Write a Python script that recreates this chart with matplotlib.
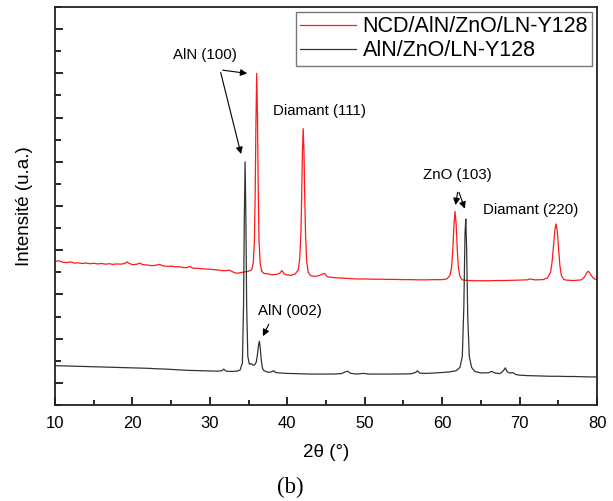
import matplotlib
matplotlib.use("Agg")
import matplotlib.pyplot as plt
from matplotlib.ticker import MultipleLocator, NullFormatter

plt.rcParams['font.family'] = ['Liberation Sans', 'DejaVu Sans']

# NCD/AlN/ZnO/LN-Y128 (red)
red_x = [10.0, 10.5, 11.0, 11.5, 12.0, 12.5, 13.0, 13.5, 14.0, 14.5, 15.0, 15.5, 16.0, 16.5,
         17.0, 17.5, 18.0, 18.5, 19.0, 19.3, 19.6, 20.0, 20.5, 21.0, 21.3, 22.0, 22.5, 23.0,
         23.5, 24.0, 24.5, 25.0, 25.5, 26.0, 26.5, 27.0, 27.4, 27.8, 28.5, 29.0, 29.5, 30.0,
         30.5, 31.0, 31.5, 32.0, 32.5, 32.8, 33.2, 33.6, 34.0, 34.5, 35.0, 35.4, 35.6, 35.75,
         35.85, 35.95, 36.05, 36.15, 36.25, 36.35, 36.5, 36.7, 37.0, 37.5, 38.0, 38.5, 39.0,
         39.3, 39.6, 40.0, 40.5, 41.0, 41.4, 41.6, 41.75, 41.85, 41.95, 42.05, 42.15, 42.25,
         42.35, 42.5, 42.7, 43.0, 43.5, 44.0, 44.5, 44.8, 45.2, 46.0, 47.0, 48.0, 49.0, 50.0,
         51.0, 52.0, 53.0, 54.0, 55.0, 56.0, 57.0, 58.0, 59.0, 60.0, 60.6, 61.0, 61.2, 61.35,
         61.5, 61.65, 61.8, 61.95, 62.1, 62.3, 62.6, 63.0, 64.0, 65.0, 66.0, 67.0, 68.0, 69.0,
         70.0, 71.0, 71.3, 72.0, 73.0, 73.6, 74.0, 74.2, 74.4, 74.55, 74.7, 74.85, 75.0, 75.2,
         75.4, 75.7, 76.0, 77.0, 78.0, 78.4, 78.7, 78.9, 79.1, 79.4, 79.7, 80.0]
red_y = [5.50, 5.52, 5.46, 5.44, 5.47, 5.42, 5.43, 5.40, 5.42, 5.39, 5.41, 5.38, 5.40, 5.37,
         5.39, 5.36, 5.38, 5.37, 5.40, 5.47, 5.40, 5.35, 5.36, 5.42, 5.35, 5.33, 5.30, 5.32,
         5.36, 5.29, 5.27, 5.28, 5.25, 5.26, 5.22, 5.21, 5.27, 5.19, 5.18, 5.16, 5.15, 5.14,
         5.12, 5.11, 5.08, 5.07, 5.10, 5.05, 4.98, 4.96, 4.99, 5.02, 5.05, 5.12, 5.40, 6.40,
         8.50, 11.80, 14.00, 12.00, 8.60, 6.40, 5.40, 5.05, 4.95, 4.93, 4.89, 4.90, 4.95,
         5.08, 4.93, 4.88, 4.87, 4.92, 5.10, 5.60, 6.70, 8.30, 10.40, 11.50, 10.50, 8.40,
         6.80, 5.50, 5.00, 4.85, 4.82, 4.84, 4.92, 4.95, 4.80, 4.76, 4.74, 4.72, 4.70, 4.70,
         4.69, 4.69, 4.68, 4.68, 4.67, 4.67, 4.66, 4.66, 4.67, 4.67, 4.70, 4.85, 5.20, 5.90,
         7.00, 7.76, 7.20, 6.00, 5.20, 4.80, 4.66, 4.64, 4.62, 4.62, 4.62, 4.63, 4.63, 4.64,
         4.65, 4.66, 4.70, 4.66, 4.67, 4.75, 5.00, 5.50, 6.30, 6.90, 7.19, 6.90, 6.20, 5.30,
         4.85, 4.68, 4.65, 4.63, 4.66, 4.80, 5.00, 5.05, 4.95, 4.78, 4.70, 4.67]

# AlN/ZnO/LN-Y128 (black)
blk_x = [10, 11, 12, 13, 14, 15, 16, 17, 18, 19, 20, 21, 22, 23, 24, 25, 26, 27, 28, 29, 30,
         31, 31.5, 31.8, 32.1, 32.5, 33, 33.5, 33.9, 34.2, 34.35, 34.45, 34.55, 34.65, 34.75,
         34.9, 35.1, 35.3, 35.6, 35.8, 36.0, 36.15, 36.3, 36.4, 36.5, 36.65, 36.8, 37.0, 37.5,
         38.0, 38.2, 38.5, 39, 40, 41, 42, 43, 44, 45, 46, 47, 47.5, 47.8, 48.2, 49, 49.8,
         50.5, 52, 54, 56, 56.6, 56.8, 57.1, 58, 59, 60, 61, 61.8, 62.3, 62.6, 62.8, 62.95,
         63.05, 63.15, 63.3, 63.5, 63.8, 64.2, 65, 66, 66.4, 66.8, 67.5, 67.9, 68.15, 68.4,
         68.8, 69.1, 69.5, 70, 71, 72, 73, 74, 75, 76, 77, 78, 79, 80]
blk_y = [0.78, 0.77, 0.76, 0.75, 0.74, 0.73, 0.72, 0.71, 0.70, 0.69, 0.68, 0.67, 0.66, 0.64,
         0.63, 0.61, 0.59, 0.57, 0.56, 0.55, 0.54, 0.53, 0.55, 0.62, 0.53, 0.52, 0.52, 0.53,
         0.58, 0.90, 3.50, 7.50, 10.00, 7.50, 3.50, 1.20, 0.85, 0.87, 0.80, 0.82, 0.95, 1.30,
         1.75, 1.88, 1.60, 1.00, 0.65, 0.55, 0.48, 0.50, 0.55, 0.47, 0.45, 0.43, 0.42, 0.41,
         0.40, 0.40, 0.40, 0.40, 0.42, 0.50, 0.53, 0.43, 0.40, 0.43, 0.40, 0.40, 0.40, 0.41,
         0.48, 0.55, 0.44, 0.43, 0.45, 0.47, 0.50, 0.55, 0.70, 1.20, 3.50, 6.80, 7.41, 6.20,
         3.00, 1.20, 0.70, 0.52, 0.45, 0.46, 0.52, 0.45, 0.42, 0.55, 0.68, 0.50, 0.44, 0.47,
         0.38, 0.35, 0.33, 0.32, 0.31, 0.30, 0.30, 0.29, 0.29, 0.28, 0.27, 0.27]

labels = ["NCD/AlN/ZnO/LN-Y128", "AlN/ZnO/LN-Y128"]
x_ticks = [10, 20, 30, 40, 50, 60, 70, 80]

fig = plt.figure(figsize=(6.13, 5.01), dpi=100)
ax = fig.add_axes([0.0897, 0.1916, 0.8843, 0.7944])

ax.plot(red_x, red_y, color='#ff1a1a', lw=0.9, label=labels[0])
ax.plot(blk_x, blk_y, color='#333333', lw=0.9, label=labels[1])

ax.set_xlim(10, 80)
ax.set_ylim(-1, 17)
ax.set_xticks(x_ticks)
ax.xaxis.set_minor_locator(MultipleLocator(5))
ax.yaxis.set_major_locator(MultipleLocator(2))
ax.yaxis.set_minor_locator(MultipleLocator(1))
ax.yaxis.set_major_formatter(NullFormatter())
ax.tick_params(axis='both', which='both', direction='in', top=False, right=False)
ax.tick_params(axis='x', which='major', length=6, width=1.2, labelsize=12, pad=8)
ax.tick_params(axis='x', which='minor', length=3.5, width=1.2)
ax.tick_params(axis='y', which='major', length=6, width=1.2)
ax.tick_params(axis='y', which='minor', length=4, width=1.2)
for s in ax.spines.values():
    s.set_linewidth(1.3)
    s.set_color('#222222')

ax.set_xlabel("2θ (°)", fontsize=13.5, labelpad=9)
ax.set_ylabel("Intensité (u.a.)", fontsize=13.5, labelpad=12)

leg = ax.legend(loc='upper right', fontsize=15.5, frameon=True, fancybox=False,
                edgecolor='#555555', handlelength=2.6, borderpad=0.2, labelspacing=0.15,
                handletextpad=0.3, borderaxespad=0.22)
leg.get_frame().set_linewidth(1.0)

akw = dict(arrowstyle='-|>', color='black', lw=0.8, mutation_scale=10)
tfs = 10.8
ax.text(29.37, 14.85, "AlN (100)", fontsize=tfs, ha='center', va='center')
ax.annotate("", xy=(35.18, 13.98), xytext=(31.31, 14.16), arrowprops=akw)
ax.annotate("", xy=(34.11, 10.23), xytext=(31.31, 14.16), arrowprops=akw)
ax.text(44.22, 12.31, "Diamant (111)", fontsize=tfs, ha='center', va='center')
ax.text(61.92, 9.41, "ZnO (103)", fontsize=tfs, ha='center', va='center')
ax.annotate("", xy=(61.66, 7.92), xytext=(62.05, 8.74), arrowprops=akw)
ax.annotate("", xy=(63.04, 7.76), xytext=(62.05, 8.74), arrowprops=akw)
ax.text(71.47, 7.83, "Diamant (220)", fontsize=tfs, ha='center', va='center')
ax.text(40.35, 3.27, "AlN (002)", fontsize=tfs, ha='center', va='center')
ax.annotate("", xy=(36.69, 2.00), xytext=(37.77, 2.77), arrowprops=akw)

fig.text(290 / 613, 1 - 487 / 501, "(b)", fontsize=16.5, family='Liberation Serif',
         ha='center', va='center')

fig.savefig("out.png", dpi=100)
